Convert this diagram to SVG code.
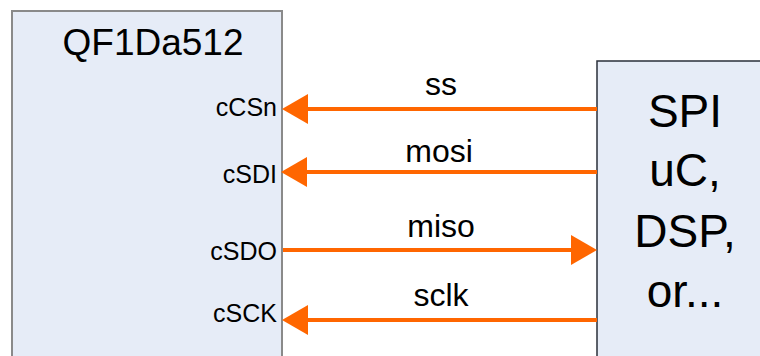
<svg xmlns="http://www.w3.org/2000/svg" width="760" height="356" viewBox="0 0 760 356">
<style>
.box{fill:#E6ECF7}
.lbl{font-family:"Liberation Sans",Arial,sans-serif;fill:#000}
.pin{font-size:25px;text-anchor:end}
.sig{font-size:32px;text-anchor:middle}
.wire{stroke:#FF6600;stroke-width:4;fill:none}
</style>
<defs>
<marker id="ah" markerUnits="userSpaceOnUse" markerWidth="26" markerHeight="30" refX="0" refY="15" orient="auto" viewBox="0 0 26 30">
<path d="M0,0 L26,15 L0,30 z" fill="#FF6600"/>
</marker>
</defs>
<rect width="760" height="356" fill="#fff"/>
<g id="qf1da512">
<rect class="box" x="12" y="11" width="270" height="360" stroke="#8A8A8A" stroke-width="2"/>
<text class="lbl" x="153" y="55" font-size="37" text-anchor="middle">QF1Da512</text>
<text class="lbl pin" x="277" y="116">cCSn</text>
<text class="lbl pin" x="277" y="183">cSDI</text>
<text class="lbl pin" x="277" y="260">cSDO</text>
<text class="lbl pin" x="277" y="322">cSCK</text>
</g>
<g id="spi">
<rect class="box" x="597" y="61" width="180" height="310" stroke="#2A2F3A" stroke-width="1.5"/>
<text class="lbl" x="685" y="127" font-size="46" text-anchor="middle">SPI</text>
<text class="lbl" x="685" y="186" font-size="46" text-anchor="middle">uC,</text>
<text class="lbl" x="685" y="247" font-size="46" text-anchor="middle">DSP,</text>
<text class="lbl" x="685" y="307" font-size="46" text-anchor="middle">or...</text>
</g>
<g id="connectors">
<path class="wire" d="M597,109 L308,109" marker-end="url(#ah)"/>
<path class="wire" d="M597,172 L307,172" marker-end="url(#ah)"/>
<path class="wire" d="M283,250 L571,250" marker-end="url(#ah)"/>
<path class="wire" d="M597,320 L308,320" marker-end="url(#ah)"/>
<text class="lbl sig" x="441" y="95">ss</text>
<text class="lbl sig" x="439" y="162">mosi</text>
<text class="lbl sig" x="441" y="237">miso</text>
<text class="lbl sig" x="441" y="306">sclk</text>
</g>
</svg>
